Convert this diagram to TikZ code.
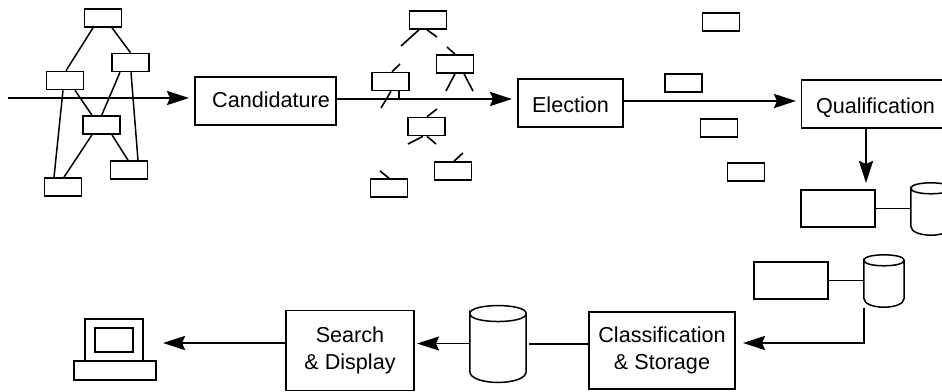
\documentclass[tikz,border=0pt]{standalone}
\usepackage{fontspec}
\setmainfont{Liberation Sans}
\usetikzlibrary{arrows.meta}
\tikzset{
  ink/.style={draw=black},
  smallbox/.style={ink,line width=1.6pt,minimum width=37pt,minimum height=18pt,inner sep=0pt},
  stepbox/.style={ink,line width=1.6pt,inner sep=0pt,align=center,font=\fontsize{21.6pt}{27pt}\selectfont},
  oneline/.style={stepbox,text height=15.7pt,text depth=0pt},
  plainbox/.style={ink,line width=1.5pt,minimum width=74pt,minimum height=37pt,inner sep=0pt},
  dbase/.style={inner sep=0pt},
  link/.style={ink,line width=1.5pt},
  stub/.style={ink,line width=1.6pt},
  flow/.style={ink,line width=2.5pt,-{Stealth[length=22pt,width=14pt,inset=3pt]}},
  flowplain/.style={ink,line width=2.5pt}
}
% node name, top half-height, bottom depth
\newcommand{\dbshape}[3]{%
  \draw[ink,line width=1.5pt] ([yshift=-#2]#1.north west) .. controls ([yshift=#2*0.33]#1.north west) and ([yshift=#2*0.33]#1.north east) .. ([yshift=-#2]#1.north east)
     .. controls ([yshift=-#2*2.33]#1.north east) and ([yshift=-#2*2.33]#1.north west) .. ([yshift=-#2]#1.north west)
     -- ([yshift=#3]#1.south west)
     .. controls ([yshift=-#3*0.33]#1.south west) and ([yshift=-#3*0.33]#1.south east) .. ([yshift=#3]#1.south east)
     -- ([yshift=-#2]#1.north east);
}
\begin{document}
\begin{tikzpicture}[x=1pt,y=-1pt]
\useasboundingbox (0,0) rectangle (942,391);
% first cluster
\node[smallbox] (A) at (103,18) {};
\node[smallbox] (B) at (130.5,62.5) {};
\node[smallbox] (C) at (65,80.5) {};
\node[smallbox] (D) at (101.7,125) {};
\node[smallbox] (E) at (129,170) {};
\node[smallbox] (F) at (63,187) {};
\draw[link] ([xshift=-10pt]A.south) -- ([xshift=1pt]C.north);
\draw[link] ([xshift=9pt]A.south) -- (B.north);
\draw[link] ([xshift=10pt]C.south) -- ([xshift=-9.7pt]D.north);
\draw[link] ([xshift=-2pt]C.south) -- ([xshift=-9pt]F.north);
\draw[link] ([xshift=-10.5pt]B.south) -- (D.north);
\draw[link] ([xshift=.5pt]B.south) -- ([xshift=9pt]E.north);
\draw[link] ([xshift=-9.7pt]D.south) -- ([xshift=1pt]F.north);
\draw[link] ([xshift=10.3pt]D.south) -- ([xshift=-1pt]E.north);
% process boxes
\node[oneline,minimum width=141pt,minimum height=48pt] (cand) at (265.5,101) {\hspace*{11pt}\raisebox{1.6pt}{Candidature}};
\node[oneline,minimum width=105pt,minimum height=48pt] (elec) at (570.5,103) {\raisebox{-1.4pt}{Election}};
\node[oneline,minimum width=141pt,minimum height=48pt] (qual) at (872,104) {\hspace*{7pt}\raisebox{-2pt}{Qualification}};
\node[stepbox,minimum width=146pt,minimum height=77pt] (clas) at (662,350.5) {Classification\\\& Storage};
\node[stepbox,minimum width=128pt,minimum height=80pt] (sear) at (350,350.5) {Search\\\& Display};
% main flow
\coordinate (in0) at (8,98);
\coordinate (in1) at (189,98);
\draw[flow] (in0) -- (in1);
\coordinate (e0) at (512,99);
\draw[flow] (cand.east |- e0) -- (e0);
\coordinate (q0) at (796,101);
\draw[flow] (elec.east |- q0) -- (q0);
% second cluster
\node[smallbox] (G) at (428,20) {};
\node[smallbox] (H) at (455,64) {};
\node[smallbox] (I) at (390.5,81.5) {};
\node[smallbox] (J) at (426.5,126.5) {};
\node[smallbox] (K) at (453,171) {};
\node[smallbox] (L) at (389,188) {};
\coordinate (g1) at (401,46); \coordinate (g2) at (437,37);
\coordinate (h1) at (447,47); \coordinate (h2) at (446,91); \coordinate (h3) at (473,91);
\coordinate (i1) at (400,64); \coordinate (i2) at (381,108); \coordinate (i3) at (399,99);
\coordinate (j1) at (437,109); \coordinate (j2) at (408,144); \coordinate (j3) at (436,144);
\coordinate (k1) at (463,153); \coordinate (l1) at (380,171);
\draw[stub] ([xshift=-9pt]G.south) -- (g1);
\draw[stub] ([xshift=-1pt]G.south) -- (g2);
\draw[stub] (H.north) -- (h1);
\draw[stub] (H.south) -- (h2);
\draw[stub] ([xshift=9pt]H.south) -- (h3);
\draw[stub] ([xshift=1.5pt]I.north) -- (i1);
\draw[stub] ([xshift=.5pt]I.south) -- (i2);
\draw[stub] ([xshift=8.5pt]I.south) -- (i3);
\draw[stub] ([xshift=.5pt]J.north) -- (j1);
\draw[stub] ([xshift=-3.5pt]J.south) -- (j2);
\draw[stub] ([xshift=.5pt]J.south) -- (j3);
\draw[stub] ([xshift=1pt]K.north) -- (k1);
\draw[stub] (L.north) -- (l1);
% third cluster
\node[smallbox] (M) at (721,22) {};
\node[smallbox] (N) at (683.5,83) {};
\node[smallbox] (O) at (719,128) {};
\node[smallbox] (P) at (746,172) {};
% qualification output
\node[plainbox] (R) at (838,208.5) {};
\node[dbase,minimum width=40pt,minimum height=52pt] (cy1) at (931,209) {};
\dbshape{cy1}{5.5pt}{9pt}
\coordinate (q1) at (866,183);
\draw[flow] (qual.south -| q1) -- (q1);
\draw[link] (R.east) -- (cy1.west |- R.east);
\node[plainbox] (S) at (791,280.5) {};
\node[dbase,minimum width=40pt,minimum height=52pt] (cy2) at (884,281) {};
\dbshape{cy2}{5.5pt}{9pt}
\draw[link] (S.east) -- (cy2.west |- S.east);
\coordinate (c0) at (864,308);
\coordinate (c1) at (743,343);
\draw[flow] (c0) |- (c1);
% lower row
\node[dbase,minimum width=56pt,minimum height=76.5pt] (cy3) at (498,344) {};
\dbshape{cy3}{8pt}{11pt}
\coordinate (s0) at (529,344);
\coordinate (s1) at (417,343.5);
\draw[flowplain] (clas.west |- s0) -- (s0);
\draw[flow,line width=1.8pt] (cy3.west |- s1) -- (s1);
\coordinate (p1) at (163,343);
\draw[flow] (sear.west |- p1) -- (p1);
% computer
\node[ink,line width=1.5pt,minimum width=58pt,minimum height=42pt,inner sep=0pt] (mon) at (114,340) {};
\node[ink,line width=1.5pt,minimum width=38pt,minimum height=24pt,inner sep=0pt] (scr) at (114,340) {};
\node[ink,line width=1.5pt,minimum width=82pt,minimum height=19pt,inner sep=0pt] (base) at (115,370.5) {};
\end{tikzpicture}
\end{document}
